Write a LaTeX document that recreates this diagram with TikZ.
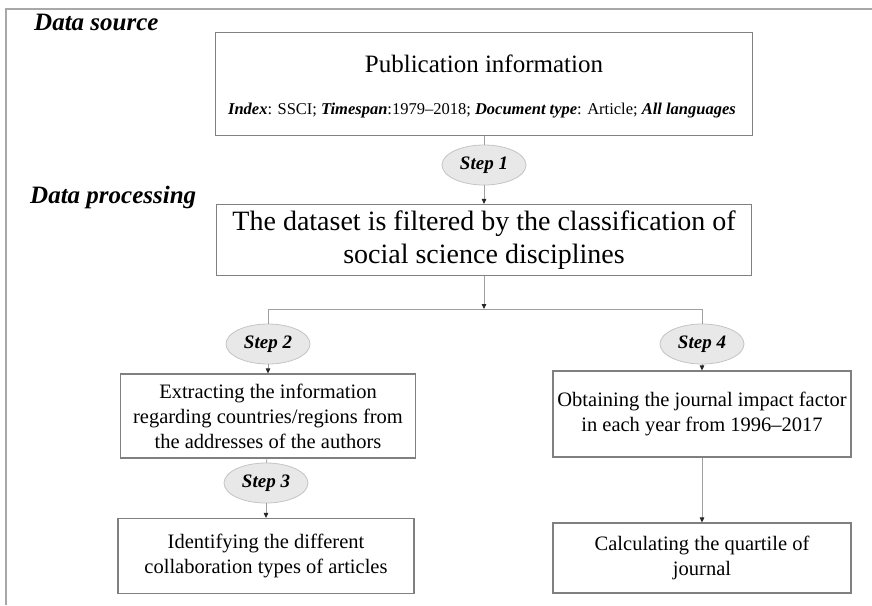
\documentclass[tikz,border=0pt]{standalone}
\usepackage{fontspec}
\setmainfont{Liberation Serif}
\usetikzlibrary{shapes.geometric,arrows.meta}
\definecolor{framegray}{HTML}{A8A8A8}
\definecolor{boxgray}{HTML}{808080}
\definecolor{linkgray}{HTML}{A0A0A0}
\definecolor{stepfill}{HTML}{E8E8E8}
\definecolor{stepedge}{HTML}{C4C4C4}

\begin{document}
\begin{tikzpicture}[x=1pt,y=-1pt,
  boxnode/.style={draw=boxgray,line width=1.1pt,rectangle,align=center,inner sep=0pt,
    font=\fontsize{20.5}{25}\selectfont},
  stepnode/.style={draw=stepedge,fill=stepfill,ellipse,line width=0.8pt,
    minimum width=84pt,minimum height=40pt,inner sep=0pt},
  link/.style={draw=linkgray,line width=0.8pt},
  arrowlink/.style={link,-{Triangle[length=5pt,width=4.5pt,color=black!85]}}]
\newcommand{\myfontheading}[1]{
\fontsize{25}{29}\selectfont\bfseries\itshape{#1}
}\newcommand{\myfontstep}[1]{
\fontsize{19}{22}\selectfont\bfseries\itshape{#1}
}\newcommand{\myfontindex}[1]{
\fontsize{16.5}{19}\selectfont{#1}
}%Page size
\useasboundingbox (0,0) rectangle (872,605);
%Outer frame, only top and left lines
\draw [framegray,line width=1.4pt] (6,605) -- (6,9) -- (872,9);
%Headings
\coordinate (hsource) at (34,22);
\coordinate (hprocess) at (30,197);
\node [anchor=west,inner sep=0pt] (source) at (hsource) {\myfontheading{Data source}};
\node [anchor=west,inner sep=0pt] (process) at (hprocess) {\myfontheading{Data processing}};
%Centres of the boxes
\coordinate (csrc) at (484,84);
\coordinate (cdata) at (484,240);
\coordinate (cext) at (268,416);
\coordinate (cident) at (266,556);
\coordinate (cjif) at (702,414);
\coordinate (cquart) at (702,558);
%Centres of the steps
\coordinate (cstep1) at (484,165);
\coordinate (cstep2) at (268,344);
\coordinate (cstep3) at (266,483);
\coordinate (cstep4) at (702,344);
%Split of the two branches
\coordinate (split) at (484,309);
\coordinate (splitleft) at (268,309);
\coordinate (splitright) at (702,309);
%Boxes
\node [boxnode,minimum width=537pt,minimum height=103pt] (src) at (csrc)
  {\raisebox{-10pt}[0pt][0pt]{\begin{tabular}{@{}c@{}}
   \fontsize{25}{30}\selectfont Publication information\\[17pt]
   \myfontindex{\textbf{\textit{Index}}: SSCI; \textbf{\textit{Timespan}}:1979--2018; \textbf{\textit{Document type}}: Article; \textbf{\textit{All languages}}}
   \end{tabular}}};
\node [boxnode,minimum width=535pt,minimum height=71pt,font=\fontsize{28}{33}\selectfont] (data) at (cdata)
  {The dataset is filtered by the classification of\\social science disciplines};
\node [boxnode,minimum width=295pt,minimum height=84pt] (ext) at (cext)
  {Extracting the information\\regarding countries/regions from\\the addresses of the authors};
\node [boxnode,minimum width=296pt,minimum height=75pt] (ident) at (cident)
  {Identifying the different\\collaboration types of articles};
\node [boxnode,minimum width=298pt,minimum height=86pt] (jif) at (cjif)
  {Obtaining the journal impact factor\\in each year from 1996--2017};
\node [boxnode,minimum width=298pt,minimum height=70pt] (quart) at (cquart)
  {Calculating the quartile of\\journal};
%Steps
\node [stepnode] (step1) at (cstep1) {\myfontstep{Step 1}};
\node [stepnode] (step2) at (cstep2) {\myfontstep{Step 2}};
\node [stepnode] (step3) at (cstep3) {\myfontstep{Step 3}};
\node [stepnode] (step4) at (cstep4) {\myfontstep{Step 4}};
%Connectors
\draw [link] (src) -- (step1);
\draw [arrowlink] (step1) -- (data);
\draw [arrowlink] (data) -- (split);
\draw [link] (step2) -- (splitleft) -- (splitright) -- (step4);
\draw [arrowlink] (step2) -- (ext);
\draw [link] (ext) -- (step3);
\draw [arrowlink] (step3) -- (ident);
\draw [arrowlink] (step4) -- (jif);
\draw [arrowlink] (jif) -- (quart);
\end{tikzpicture}
\end{document}
